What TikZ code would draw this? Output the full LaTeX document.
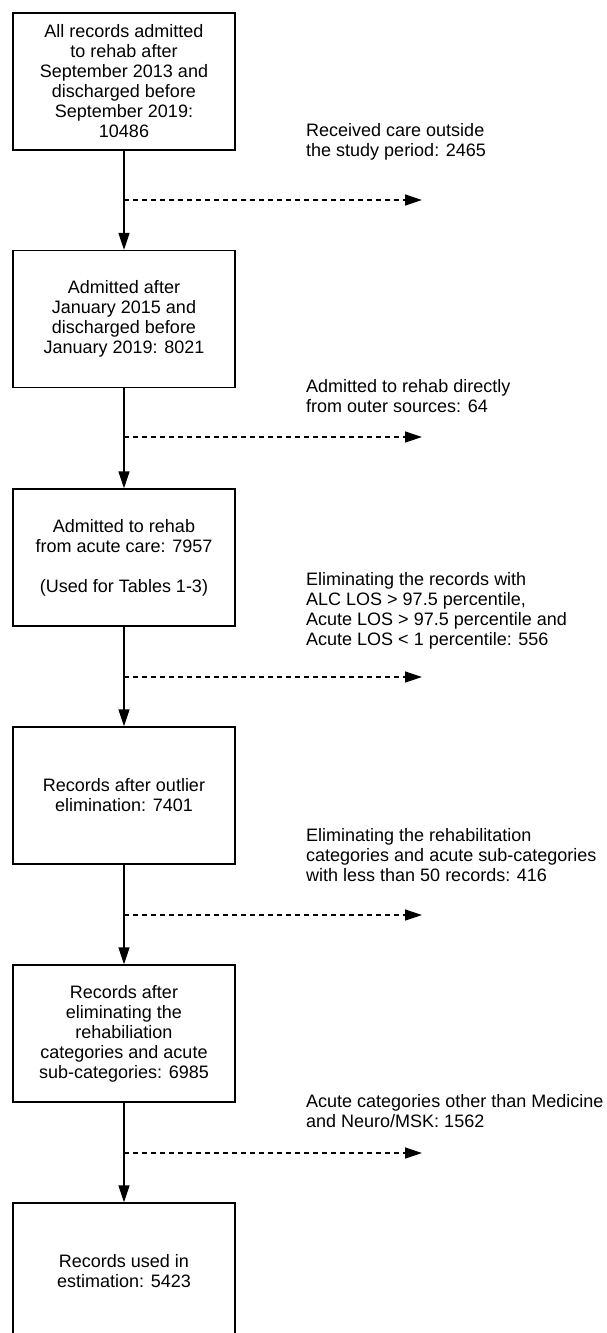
\documentclass[tikz,border=0pt]{standalone}
\usepackage{fontspec}
\setmainfont{Liberation Sans}
\usetikzlibrary{arrows.meta,positioning}
\tikzset{
    stage/.style={
    rectangle,draw=black,line width=1.4pt,minimum width=222pt,minimum height=137pt,
    align=center,inner sep=0pt,font=\fontsize{18}{20}\selectfont
    },
    note/.style={
    anchor=west,align=left,inner sep=0pt,font=\fontsize{18}{20}\selectfont
    },
    flow/.style={
    line width=1.4pt,-{Triangle[length=17pt,width=11pt]}
    },
    drop/.style={
    line width=1.3pt,dash pattern=on 5pt off 4pt,-{Triangle[length=17pt,width=11pt]}
    },
}
\begin{document}
\begin{tikzpicture}[x=1pt, y=-1pt]
   \useasboundingbox (0,0) rectangle (607,1333);
   \clip (0,0) rectangle (607,1333);
   % main chain
   \node[stage] (all) at (124,81.5) {All records admitted\\to rehab after\\September 2013 and\\discharged before\\September 2019:\\10486};
   \node[stage] (period) at (124,319) {Admitted after\\January 2015 and\\discharged before\\January 2019: 8021};
   \node[stage] (acute) at (124,557.5) {Admitted to rehab\\from acute care: 7957\\[20pt](Used for Tables 1-3)};
   \node[stage] (outlier) at (124,795.5) {Records after outlier\\elimination: 7401};
   \node[stage] (cats) at (124,1033.5) {Records after\\eliminating the\\rehabiliation\\categories and acute\\sub-categories: 6985};
   \node[stage] (final) at (124,1271.5) {Records used in\\estimation: 5423};
   % exclusions
   \node[note] (ex1) at (306,141.5) {Received care outside\\the study period: 2465};
   \node[note] (ex2) at (306,396.5) {Admitted to rehab directly\\from outer sources: 64};
   \node[note] (ex3) at (306,611) {Eliminating the records with\\ALC LOS > 97.5 percentile,\\Acute LOS > 97.5 percentile and\\Acute LOS < 1 percentile: 556};
   \node[note] (ex4) at (306,855.5) {Eliminating the rehabilitation\\categories and acute sub-categories\\with less than 50 records: 416};
   \node[note] (ex5) at (306,1111) {Acute categories other than Medicine\\and Neuro/MSK: 1562};
   \coordinate (s1) at (124,200);  \coordinate (t1) at (422,200);
   \coordinate (s2) at (124,437);  \coordinate (t2) at (422,437);
   \coordinate (s3) at (124,677);  \coordinate (t3) at (422,677);
   \coordinate (s4) at (124,915);  \coordinate (t4) at (422,915);
   \coordinate (s5) at (124,1153); \coordinate (t5) at (422,1153);

  \path[flow]
    (all) edge (period)
    (period) edge (acute)
    (acute) edge (outlier)
    (outlier) edge (cats)
    (cats) edge (final);
  \path[drop]
    (s1) edge (t1)
    (s2) edge (t2)
    (s3) edge (t3)
    (s4) edge (t4)
    (s5) edge (t5);
\end{tikzpicture}
\end{document}
